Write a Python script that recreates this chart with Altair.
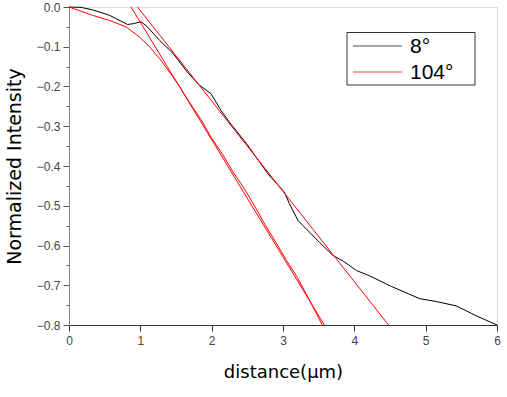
import altair as alt
import pandas as pd

# 8° profile
x8 = [0, 0.17, 0.33, 0.57, 0.82, 0.9, 1.01, 1.1, 1.27, 1.46, 1.66, 1.83, 1.99, 2.13,
      2.25, 2.49, 2.79, 3.02, 3.09, 3.21, 3.51, 3.7, 3.85, 4.03, 4.21, 4.52, 4.92,
      5.15, 5.43, 5.71, 6.0]
y8 = [0, -0.001, -0.007, -0.021, -0.044, -0.042, -0.037, -0.05, -0.084, -0.117,
      -0.164, -0.197, -0.218, -0.26, -0.29, -0.344, -0.42, -0.466, -0.495, -0.537,
      -0.592, -0.625, -0.64, -0.663, -0.676, -0.703, -0.734, -0.741, -0.752, -0.777, -0.80]

# 104° profile
x104 = [0, 0.33, 0.57, 0.8, 0.99, 1.13, 1.27, 1.41, 1.55, 1.7, 1.85, 2.0, 2.15, 2.3,
        2.45, 2.6, 2.75, 2.9, 3.05, 3.2, 3.35, 3.55]
y104 = [0, -0.021, -0.034, -0.05, -0.076, -0.10, -0.13, -0.164, -0.2, -0.243, -0.283,
        -0.33, -0.37, -0.415, -0.455, -0.5, -0.548, -0.592, -0.638, -0.68, -0.73, -0.8]

# linear fits (start/end points)
fit_id = ["fit8", "fit8", "fit104", "fit104"]
fit_x = [0.96, 4.48, 0.87, 3.58]
fit_y = [0.0, -0.8, 0.0, -0.8]

series_names = ["8°", "104°"]
series_colors = ["black", "red"]
legend_symbol_colors = ["#888888", "#ff8080"]

x_tick_values = [0, 0.5, 1, 1.5, 2, 2.5, 3, 3.5, 4, 4.5, 5, 5.5, 6]
y_tick_values = [0, -0.05, -0.1, -0.15, -0.2, -0.25, -0.3, -0.35, -0.4, -0.45,
                 -0.5, -0.55, -0.6, -0.65, -0.7, -0.75, -0.8]

df = pd.DataFrame({
    "x": x8 + x104,
    "y": y8 + y104,
    "series": [series_names[0]] * len(x8) + [series_names[1]] * len(x104),
})
fits = pd.DataFrame({"x": fit_x, "y": fit_y, "fit": fit_id})

FONT = "Liberation Sans"
TFONT = "DejaVu Sans"

xscale = alt.Scale(domain=[0, 6], nice=False)
yscale = alt.Scale(domain=[-0.8, 0], nice=False)

ymajor = "abs(datum.value*10 - round(datum.value*10)) < 0.001"

xaxis = alt.Axis(
    values=x_tick_values,
    labelExpr="datum.value % 1 == 0 ? datum.label : ''",
    format="d",
    tickSize={"condition": {"test": "datum.value % 1 == 0", "value": 6}, "value": 3},
    title="distance(μm)",
    titleFont=TFONT, titleFontSize=18, titleFontWeight="normal", titleColor="black",
    titlePadding=17,
    labelFont=FONT, labelFontSize=12, labelColor="#444", labelPadding=4,
    domainColor="#333", tickColor="#333", grid=False, labelFlush=False,
    labelOverlap=False,
)
yaxis = alt.Axis(
    values=y_tick_values,
    labelExpr=ymajor + " ? format(datum.value, '.1f') : ''",
    tickSize={"condition": {"test": ymajor, "value": 6}, "value": 3},
    title="Normalized Intensity",
    titleFont=TFONT, titleFontSize=19, titleFontWeight="normal", titleColor="black",
    titlePadding=12,
    labelFont=FONT, labelFontSize=12, labelColor="#444", labelPadding=3,
    domainColor="#888", tickColor="#555", grid=False, labelFlush=False,
    labelOverlap=False,
)

lines = alt.Chart(df).mark_line(strokeWidth=1).encode(
    x=alt.X("x:Q", scale=xscale, axis=xaxis),
    y=alt.Y("y:Q", scale=yscale, axis=yaxis),
    color=alt.Color(
        "series:N",
        scale=alt.Scale(domain=series_names, range=series_colors),
        legend=None,
    ),
)

fitlines = alt.Chart(fits).mark_line(strokeWidth=1, color="red").encode(
    x=alt.X("x:Q", scale=xscale, axis=xaxis),
    y=alt.Y("y:Q", scale=yscale, axis=yaxis),
    detail="fit:N",
)

# manual legend box
leg_src = pd.DataFrame({"series": series_names})
legend_box = alt.Chart(leg_src).transform_filter(
    alt.datum.series == series_names[0]
).mark_rect(fill="white", stroke="#333", strokeWidth=1).encode(
    x=alt.value(278), x2=alt.value(406), y=alt.value(25.5), y2=alt.value(78),
)

legend_layers = [legend_box]
for i, (name, col) in enumerate(zip(series_names, legend_symbol_colors)):
    ypos = 39 + i * 26
    sym = alt.Chart(leg_src).transform_filter(alt.datum.series == name).mark_rule(
        color=col, strokeWidth=1.5
    ).encode(x=alt.value(284), x2=alt.value(333), y=alt.value(ypos))
    lab = alt.Chart(leg_src).transform_filter(alt.datum.series == name).mark_text(
        font=FONT, fontSize=21, color="black", align="left", baseline="middle"
    ).encode(x=alt.value(341), y=alt.value(ypos + 1), text="series:N")
    legend_layers += [sym, lab]

chart = alt.layer(lines, fitlines, *legend_layers).properties(
    width=428, height=318,
    autosize=alt.AutoSizeParams(type="none"),
    padding={"left": 69, "top": 7, "right": 10, "bottom": 72},
).configure_view(
    stroke="#888", strokeWidth=1.5
).configure_axis(
    labelOverlap=False
).configure(background="white")

chart.save("out.html", embed_options={"renderer": "svg", "actions": False})
